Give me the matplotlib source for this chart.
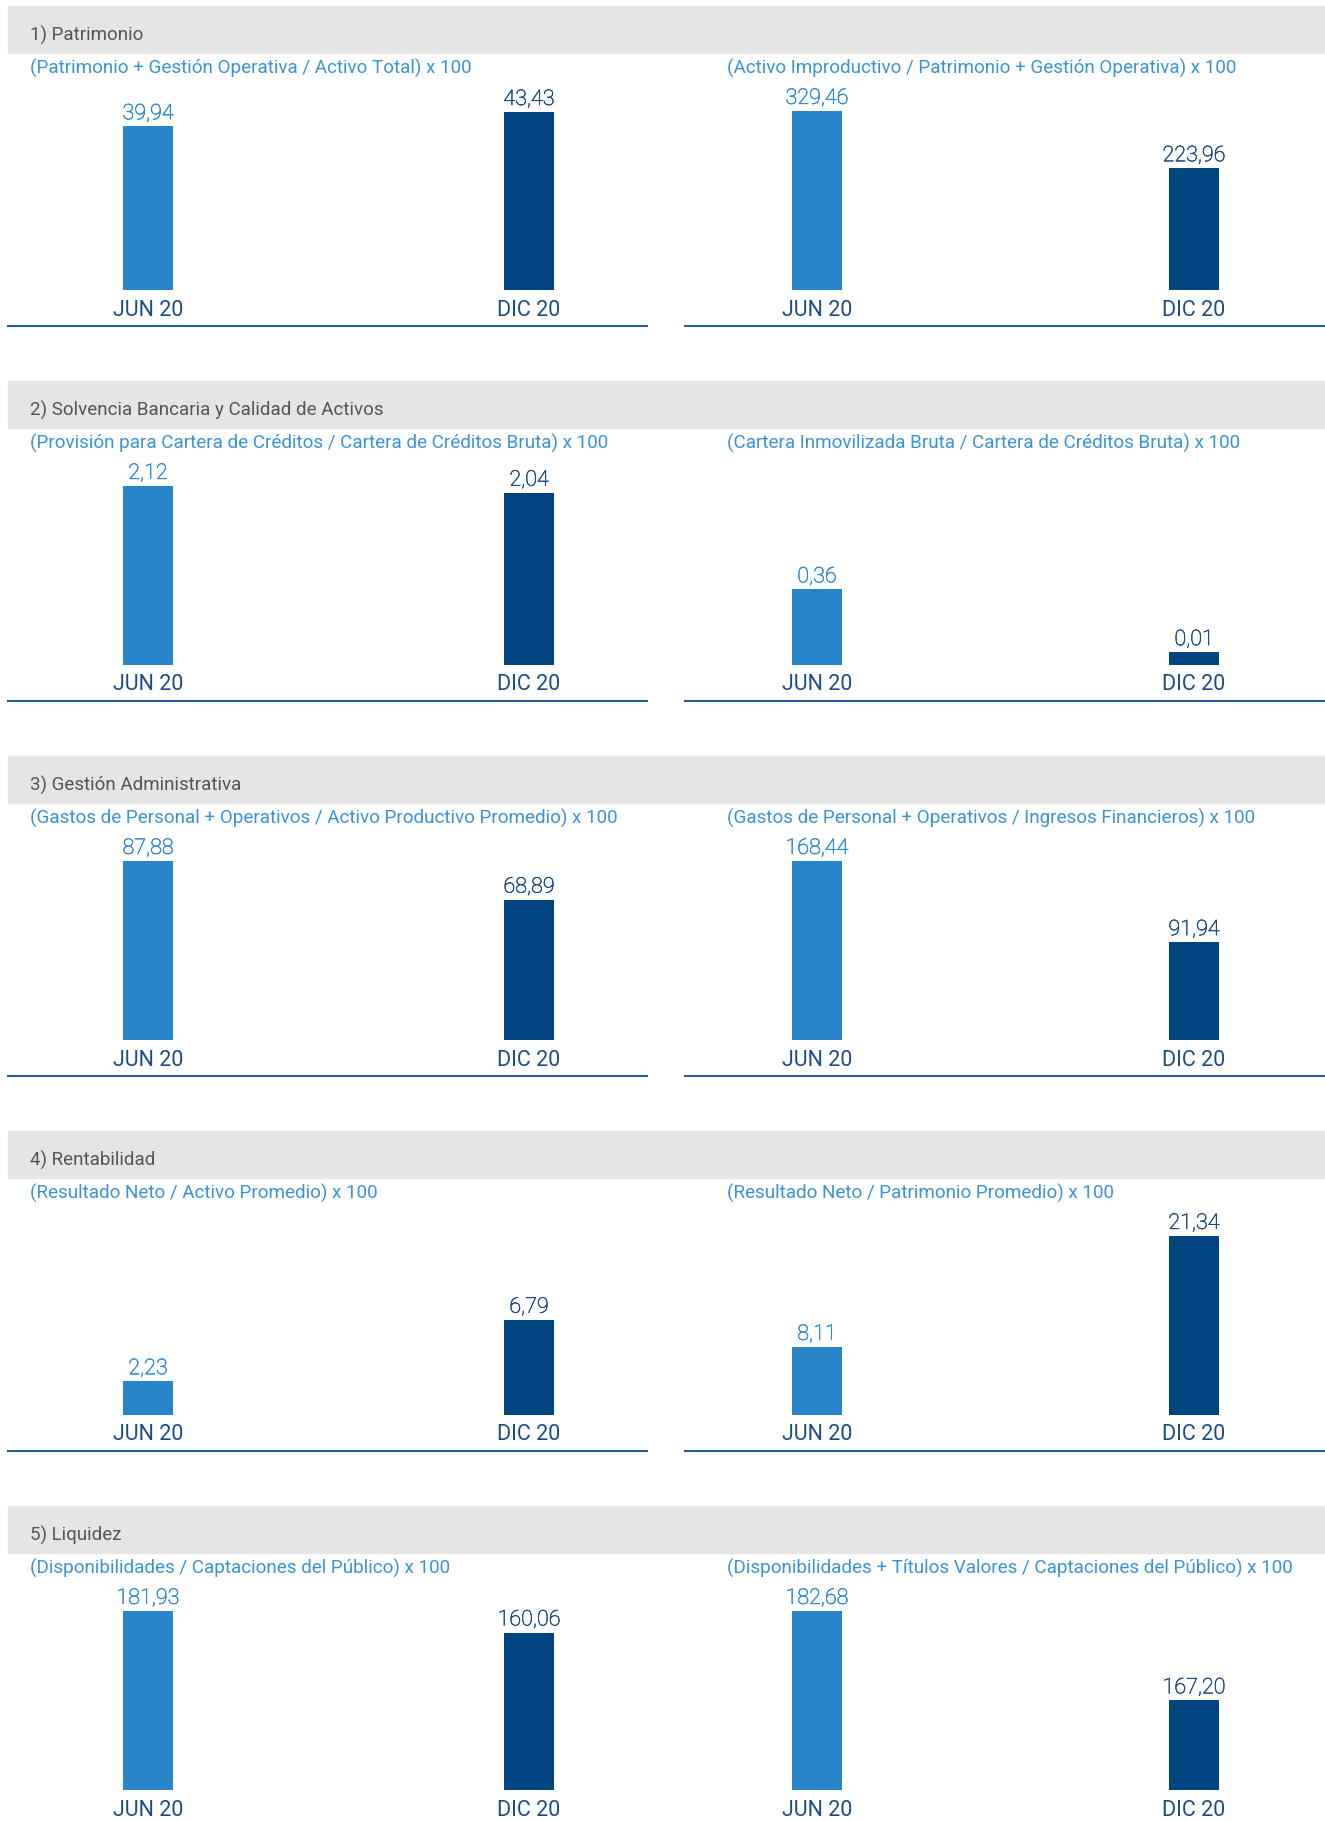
import matplotlib
matplotlib.use("Agg")
import matplotlib.pyplot as plt
import matplotlib.patheffects as pe
from matplotlib.patches import Rectangle
import numpy as np

plt.rcParams['font.family'] = ['Roboto', 'DejaVu Sans']

# data
periods = ['JUN 20', 'DIC 20']
sections = ['1) Patrimonio',
            '2) Solvencia Bancaria y Calidad de Activos',
            '3) Gestión Administrativa',
            '4) Rentabilidad',
            '5) Liquidez']
left_titles = ['(Patrimonio + Gestión Operativa / Activo Total) x 100',
               '(Provisión para Cartera de Créditos / Cartera de Créditos Bruta) x 100',
               '(Gastos de Personal + Operativos / Activo Productivo Promedio) x 100',
               '(Resultado Neto / Activo Promedio) x 100',
               '(Disponibilidades / Captaciones del Público) x 100']
right_titles = ['(Activo Improductivo / Patrimonio + Gestión Operativa) x 100',
                '(Cartera Inmovilizada Bruta / Cartera de Créditos Bruta) x 100',
                '(Gastos de Personal + Operativos / Ingresos Financieros) x 100',
                '(Resultado Neto / Patrimonio Promedio) x 100',
                '(Disponibilidades + Títulos Valores / Captaciones del Público) x 100']
left_values = [[39.94, 43.43], [2.12, 2.04], [87.88, 68.89], [2.23, 6.79], [181.93, 160.06]]
right_values = [[329.46, 223.96], [0.36, 0.01], [168.44, 91.94], [8.11, 21.34], [182.68, 167.20]]

# axis ranges as drawn in the original (some panels don't start at zero)
left_ylim = [(0, 43.7), (0, 2.12), (0, 87.88), (-0.27, 13.0), (0, 181.93)]
right_ylim = [(0, 329.46), (-0.061, 0.937), (0, 168.44), (0, 21.34), (151.7, 182.68)]

# colours
c_light = '#2985C9'
c_dark = '#004480'
c_band = '#E5E5E5'
c_head = '#555555'
c_sub = '#3B93D6'
c_val_light = '#2F88D0'
c_val_dark = '#1A4A84'
c_navy_txt = '#1C4C86'
c_line = '#2B5C96'

W, H = 1325, 1821
fig = plt.figure(figsize=(W / 100, H / 100), dpi=100)


def fx(px):
    return px / W


def fy(py):
    return 1 - py / H


def fmt(v):
    return ('%.2f' % v).replace('.', ',')


def panel(top, x0, x1, centers, values, ylim, title):
    # bar area: from max bar top to bar bottom
    y_top = top + 105
    y_bot = top + 284
    ax = fig.add_axes([fx(x0), fy(y_bot), fx(x1 - x0), (y_bot - y_top) / H])
    span = x1 - x0
    a = (centers[0] - x0) / span
    b = (centers[1] - x0) / span
    unit = b - a
    ax.set_xlim(-a / unit, (1 - a) / unit)
    lo, hi = ylim
    ax.set_ylim(lo, hi)
    bw = 50 / (span * unit)
    x = np.arange(len(values))
    vals = np.array(values)
    ax.bar(x, vals - lo, bottom=lo, width=bw, color=[c_light, c_dark])
    for i, v in enumerate(values):
        col = c_val_light if i == 0 else c_val_dark
        ax.annotate(fmt(v), (x[i], v), xytext=(0, 1.5), textcoords='offset points',
                    ha='center', va='bottom', fontsize=15.5, fontweight='light',
                    color=col,
                    path_effects=[pe.withStroke(linewidth=0.4, foreground=col)])
        ax.annotate(periods[i], (x[i], 0), xycoords=('data', 'axes fraction'),
                    xytext=(0, -20 * 0.72), textcoords='offset points',
                    ha='center', va='center', fontsize=15.5,
                    color=c_navy_txt)
    ax.axis('off')
    ax.plot([0, 1], [-(320 - 284) / (y_bot - y_top)] * 2, transform=ax.transAxes,
            color=c_line, lw=1.5, clip_on=False)
    fig.text(fx(x0 + 22 if x0 < 100 else x0 + 42), fy(top + 62), title,
             ha='left', va='center', fontsize=13.6, color=c_sub)


for k in range(5):
    top = 6 + k * 375
    fig.patches.append(Rectangle((fx(8), fy(top + 47)), fx(W - 8), 47 / H,
                                 transform=fig.transFigure, color=c_band, zorder=0))
    fig.text(fx(30), fy(top + 29), sections[k], ha='left', va='center',
             fontsize=13.5, color=c_head)
    panel(top, 8, 647, (148, 529), left_values[k], left_ylim[k], left_titles[k])
    panel(top, 685, 1324, (817, 1194), right_values[k], right_ylim[k], right_titles[k])

plt.savefig('out.png', dpi=100)
